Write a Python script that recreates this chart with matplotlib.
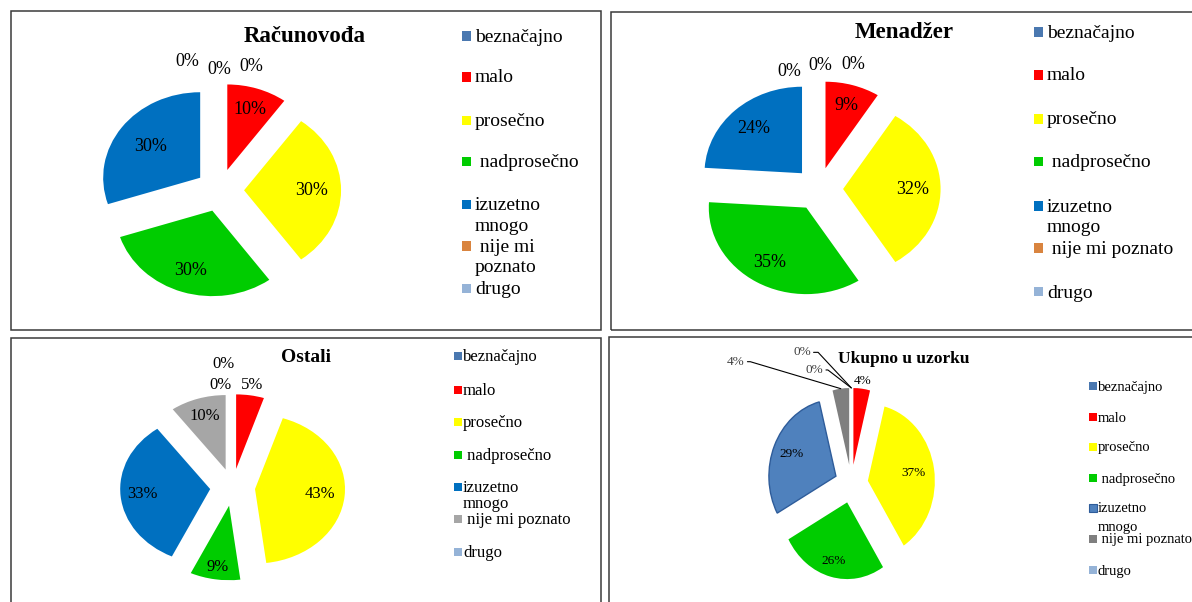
import numpy as np
import matplotlib
matplotlib.use("Agg")
import matplotlib.pyplot as plt
from matplotlib.patches import Rectangle

plt.rcParams['font.family'] = ['Liberation Serif', 'DejaVu Serif']

# ---------------- data ----------------
categories = ['beznačajno', 'malo', 'prosečno', 'nadprosečno',
              'izuzetno mnogo', 'nije mi poznato', 'drugo']
titles = ['Računovođa', 'Menadžer', 'Ostali', 'Ukupno u uzorku']
racunovodja = [0, 10, 30, 30, 30, 0, 0]
menadzer = [0, 9, 32, 35, 24, 0, 0]
ostali = [0, 5, 43, 9, 33, 10, 0]
ukupno = [0, 4, 37, 26, 29, 4, 0]
legend_racunovodja = ['beznačajno', 'malo', 'prosečno', ' nadprosečno',
                      'izuzetno\nmnogo', ' nije mi\npoznato', 'drugo']
legend_ostalo = ['beznačajno', 'malo', 'prosečno', ' nadprosečno',
                 'izuzetno\nmnogo', ' nije mi poznato', 'drugo']

# ---------------- styles / layout ----------------
W, H = 1192, 602
base_colors = ['#4A78B0', '#FF0000', '#FFFF00', '#00CC00', '#0070C0', '#D9843F', '#95B3D7']
colors_p3 = base_colors[:5] + ['#A6A6A6', '#95B3D7']
colors_p4 = base_colors[:4] + ['#4F81BD', '#7F7F7F', '#95B3D7']

panels = [
    dict(values=racunovodja, title=titles[0], legend=legend_racunovodja, colors=base_colors,
         box=(10.5, 11.5, 600.5, 330), center=(219.8, 190.3), scale=(97, 85.5),
         title_pos=(305, 36), title_fs=16.5, pct_fs=13,
         dist=[0, 0.74, 0.70, 0.74, 0.63, 0, 0],
         zero_pos=[(-0.34, 1.51), (-0.01, 1.41), (0.32, 1.45)],
         leg_mx=462, leg_ms=9, leg_tx=475, leg_ys=[37, 78, 121, 163, 206, 247, 290],
         leg_gap=20.5, leg_fs=14),
    dict(values=menadzer, title=titles[1], legend=legend_ostalo, colors=base_colors,
         box=(611, 12, 1200, 330), center=(818.7, 189), scale=(97.5, 86.5),
         title_pos=(904, 33), title_fs=16.5, pct_fs=13,
         dist=[0, 0.755, 0.717, 0.74, 0.716, 0, 0],
         zero_pos=[(-0.30, 1.36), (0.02, 1.43), (0.35, 1.44)],
         leg_mx=1034, leg_ms=9, leg_tx=1047, leg_ys=[33, 76, 120, 163, 207, 249, 293],
         leg_gap=20.5, leg_fs=14),
    dict(values=ostali, title=titles[2], legend=legend_ostalo, colors=colors_p3,
         box=(11, 337.5, 600.5, 610), center=(232.6, 487.3), scale=(90, 74.5),
         title_pos=(306, 357), title_fs=14, pct_fs=12,
         dist=[0, 1.14, 0.73, 0.83, 0.76, 0.75, 0],
         zero_pos=[(-0.10, 1.65), (-0.14, 1.37)],
         leg_mx=454, leg_ms=8, leg_tx=463, leg_ys=[357, 391, 423, 456, 488, 520, 553],
         leg_gap=16, leg_fs=12),
    dict(values=ukupno, title=titles[3], legend=legend_ostalo, colors=colors_p4,
         box=(609, 337, 1200, 610), center=(851.3, 483.8), scale=(67, 76.7),
         title_pos=(904, 359), title_fs=12.5, pct_fs=9.5,
         dist=[0, 1.10, 0.685, 0.79, 0.72, None, 0],
         zero_pos=[(-0.737, 1.714), (-0.552, 1.484)],
         zero_angles=[-47, -37.5],
         lead_pos=(-1.724, 1.592), lead_angle=-16.6,
         leg_mx=1089, leg_ms=7.5, leg_tx=1098, leg_ys=[387, 418, 448, 479, 509, 540, 571],
         leg_gap=18.5, leg_fs=10.5),
]

fig = plt.figure(figsize=(W / 100, H / 100), dpi=100)


def fx(x):
    return x / W


def fy(y):
    return 1 - y / H


for pi, p in enumerate(panels):
    x0, y0, x1, y1 = p['box']
    # panel frame
    fig.add_artist(Rectangle((fx(x0), fy(y1)), (x1 - x0) / W, (y1 - y0) / H,
                             transform=fig.transFigure, fill=False,
                             edgecolor='#3A3A3A', linewidth=1.1))
    ax = fig.add_axes([fx(x0), fy(y1), (x1 - x0) / W, (y1 - y0) / H])
    vals = p['values']
    edgecols = ['none'] * 7
    lws = [0] * 7
    if pi == 3:
        edgecols[4] = '#2E5C9A'
        lws[4] = 1.0
    wedges, _ = ax.pie(vals, explode=[0.25] * len(vals), colors=p['colors'],
                       startangle=90, counterclock=False, radius=1)
    for w, ec, lw in zip(wedges, edgecols, lws):
        w.set_edgecolor(ec)
        w.set_linewidth(lw)
    cx, cy = p['center']
    rx, ry = p['scale']
    ax.set_aspect('auto')
    ax.set_xlim((x0 - cx) / rx, (x1 - cx) / rx)
    ax.set_ylim((cy - y1) / ry, (cy - y0) / ry)
    ax.axis('off')

    # percentage labels
    for v, w, d in zip(vals, wedges, p['dist']):
        if v == 0 or d is None:
            continue
        mid = np.deg2rad((w.theta1 + w.theta2) / 2)
        wx, wy = w.center
        ax.text(wx + d * np.cos(mid), wy + d * np.sin(mid), f"{v}%",
                ha='center', va='center', fontsize=p['pct_fs'], color='black')

    zero_angles = p.get('zero_angles')
    top_wedge = wedges[0]
    tx0, ty0 = top_wedge.center
    top_pt = (tx0 + np.cos(np.deg2rad(top_wedge.theta1)), ty0 + np.sin(np.deg2rad(top_wedge.theta1)))
    for k, zp in enumerate(p['zero_pos']):
        if zero_angles is None:
            ax.text(zp[0], zp[1], "0%", ha='center', va='center',
                    fontsize=p['pct_fs'], color='black')
        else:
            ax.annotate("0%", xy=top_pt, xytext=zp, ha='center', va='center',
                        fontsize=p['pct_fs'], color='#404040',
                        arrowprops=dict(arrowstyle='-', color='black', lw=0.8,
                                        shrinkA=0, shrinkB=0,
                                        connectionstyle=f"angle,angleA=0,angleB={zero_angles[k]},rad=0"))
    if 'lead_pos' in p:
        gw = wedges[5]
        mid = np.deg2rad((gw.theta1 + gw.theta2) / 2)
        gx, gy = gw.center
        ax.annotate(f"{vals[5]}%", xy=(gx + np.cos(mid), gy + np.sin(mid)),
                    xytext=p['lead_pos'], ha='center', va='center',
                    fontsize=p['pct_fs'], color='#404040',
                    arrowprops=dict(arrowstyle='-', color='black', lw=0.8,
                                    shrinkA=0, shrinkB=0,
                                    connectionstyle=f"angle,angleA=0,angleB={p['lead_angle']},rad=0"))

    # title
    fig.text(fx(p['title_pos'][0]), fy(p['title_pos'][1]), p['title'],
             ha='center', va='center', fontsize=p['title_fs'], fontweight='bold')

    # legend
    ms = p['leg_ms']
    for lab, col, ly in zip(p['legend'], p['colors'], p['leg_ys']):
        ec = '#2E5C9A' if (pi == 3 and col == '#4F81BD') else 'none'
        fig.add_artist(Rectangle((fx(p['leg_mx']), fy(ly - 1 + ms / 2)), ms / W, ms / H,
                                 transform=fig.transFigure, facecolor=col,
                                 edgecolor=ec, linewidth=0.8))
        for li, line in enumerate(lab.split('\n')):
            fig.text(fx(p['leg_tx']), fy(ly + li * p['leg_gap']), line,
                     ha='left', va='center', fontsize=p['leg_fs'], color='black')

fig.savefig('out.png', dpi=100)
